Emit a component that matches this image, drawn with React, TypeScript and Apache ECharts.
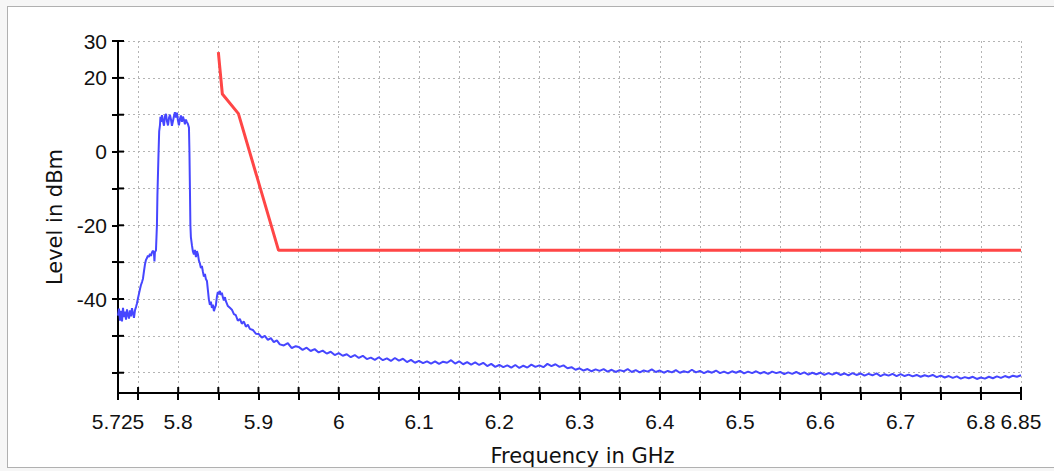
import React, { useEffect, useRef } from "react";
import * as echarts from "echarts";

const spectrum: [number, number][] = [
  [5.725, -44.5], [5.7262, -42.6], [5.7275, -45.9], [5.7287, -43.2], [5.73, -46.1], [5.7312, -42.4],
  [5.7325, -44.9], [5.7337, -43.4], [5.735, -45.6], [5.7362, -42.8], [5.7374, -44.2], [5.7387, -45.3],
  [5.7399, -43.1], [5.7412, -44.7], [5.7424, -42.5], [5.7437, -43.9], [5.7449, -45.1], [5.7462, -43.0],
  [5.7474, -42.2], [5.7486, -41.2], [5.7499, -39.8], [5.7511, -38.6], [5.7524, -37.3], [5.7536, -36.2],
  [5.7549, -35.4], [5.7561, -34.5], [5.7574, -32.4], [5.7586, -30.6], [5.7598, -29.4], [5.7611, -28.9],
  [5.7623, -28.2], [5.7636, -28.6], [5.7648, -27.7], [5.7661, -28.3], [5.7673, -27.4], [5.7685, -26.9],
  [5.7698, -27.6], [5.7704, -29.8], [5.771, -27.3], [5.7723, -26.8], [5.7735, -20], [5.7741, -12],
  [5.7753, -2], [5.7763, 5.5], [5.7773, 7.2], [5.7779, 9.4], [5.7785, 8.1], [5.7798, 9.9], [5.781, 8.3],
  [5.7823, 7.0], [5.7835, 9.6], [5.7848, 10.2], [5.786, 8.2], [5.7873, 7.1], [5.7885, 9.1], [5.7897, 10.0],
  [5.791, 8.7], [5.7922, 7.0], [5.7935, 8.3], [5.7947, 9.6], [5.7959, 10.7], [5.7972, 9.2], [5.7984, 10.6],
  [5.7997, 8.4], [5.8009, 7.1], [5.8022, 8.9], [5.8034, 9.8], [5.8047, 8.1], [5.8059, 9.5], [5.8071, 8.6],
  [5.8084, 7.4], [5.8096, 8.7], [5.8109, 8.0], [5.8121, 7.5], [5.8134, 6.5], [5.814, 0], [5.8146, -10],
  [5.8152, -20], [5.8158, -23.2], [5.8171, -25.4], [5.8183, -27.1], [5.8196, -27.9], [5.8208, -26.7],
  [5.8221, -28.6], [5.8233, -27.0], [5.8246, -27.9], [5.8258, -29.6], [5.827, -30.3], [5.8283, -31.6],
  [5.8295, -31.0], [5.8308, -32.6], [5.832, -33.9], [5.8333, -33.2], [5.8345, -34.6], [5.8358, -35.1],
  [5.837, -37.6], [5.8382, -40.1], [5.8395, -41.6], [5.8407, -40.7], [5.842, -42.4], [5.8432, -41.5],
  [5.8445, -43.3], [5.8457, -42.4], [5.8469, -41.7], [5.8482, -39.4], [5.8494, -38.1], [5.8507, -38.7],
  [5.8519, -37.8], [5.8532, -38.9], [5.8544, -38.3], [5.8557, -39.6], [5.8569, -40.4], [5.8582, -39.5],
  [5.8594, -40.6], [5.8619, -41.9], [5.8644, -42.4], [5.8669, -42.9], [5.8694, -44.1], [5.8718, -44.4],
  [5.8743, -45.9], [5.8768, -45.4], [5.8793, -46.7], [5.8818, -46.1], [5.8843, -47.5], [5.8868, -47.0],
  [5.8893, -48.1], [5.893, -48.4], [5.8967, -49.4], [5.9005, -49.5], [5.9042, -50.5], [5.9079, -50.0],
  [5.9117, -51.1], [5.9154, -50.6], [5.9191, -51.7], [5.9229, -51.2], [5.9266, -52.3], [5.9316, -52.6],
  [5.9366, -52.0], [5.9415, -53.3], [5.9465, -52.8],
  [5.95, -53.0], [5.955, -53.8], [5.96, -53.2], [5.965, -54.1], [5.97, -53.6], [5.975, -54.5], [5.98, -54.0],
  [5.985, -54.8], [5.99, -54.3], [5.995, -55.2], [6.0, -54.7], [6.005, -55.4], [6.01, -55.0], [6.015, -55.8],
  [6.02, -55.2], [6.025, -56.0], [6.03, -55.4], [6.035, -56.3], [6.04, -55.9], [6.045, -56.5], [6.05, -55.8],
  [6.055, -56.6], [6.06, -56.1], [6.065, -56.8], [6.07, -56.0], [6.075, -56.7], [6.08, -56.2], [6.085, -57.1],
  [6.09, -56.5], [6.095, -57.3], [6.1, -56.8], [6.105, -57.4], [6.11, -56.9], [6.115, -57.5], [6.12, -56.9],
  [6.125, -57.6], [6.13, -57.0], [6.135, -57.3], [6.14, -56.6], [6.145, -57.5], [6.15, -56.9], [6.155, -57.7],
  [6.16, -57.1], [6.165, -57.8], [6.17, -57.2], [6.175, -57.9], [6.18, -57.3], [6.185, -58.2], [6.19, -57.6],
  [6.195, -58.4], [6.2, -57.9], [6.205, -58.5], [6.21, -58.0], [6.215, -58.6], [6.22, -57.9], [6.225, -58.7],
  [6.23, -58.1], [6.235, -58.6], [6.24, -57.8], [6.245, -58.4], [6.25, -58.0], [6.255, -58.5], [6.26, -57.6],
  [6.265, -58.2], [6.27, -57.7], [6.275, -58.4], [6.28, -58.0], [6.285, -58.8], [6.29, -58.5], [6.295, -59.2],
  [6.3, -58.8], [6.305, -59.4], [6.31, -59.0], [6.315, -59.6], [6.32, -59.1], [6.325, -59.5], [6.33, -59.0],
  [6.335, -59.7], [6.34, -59.2], [6.345, -59.8], [6.35, -59.3], [6.355, -59.6], [6.36, -59.0], [6.365, -59.8],
  [6.37, -59.3], [6.375, -59.9], [6.38, -59.4], [6.385, -59.7], [6.39, -59.1], [6.395, -59.8], [6.4, -59.4],
  [6.405, -60.0], [6.41, -59.5], [6.415, -59.9], [6.42, -59.3], [6.425, -60.0], [6.43, -59.6], [6.435, -59.9],
  [6.44, -59.2], [6.445, -59.9], [6.45, -59.5], [6.455, -60.1], [6.46, -59.6], [6.465, -60.0], [6.47, -59.4],
  [6.475, -60.1], [6.48, -59.7], [6.485, -60.2], [6.49, -59.6], [6.495, -60.0], [6.5, -59.5], [6.505, -60.2],
  [6.51, -59.7], [6.515, -60.1], [6.52, -59.6], [6.525, -60.2], [6.53, -59.8], [6.535, -60.3], [6.54, -59.7],
  [6.545, -60.1], [6.55, -59.8], [6.555, -60.4], [6.56, -59.9], [6.565, -60.3], [6.57, -59.8], [6.575, -60.4],
  [6.58, -59.9], [6.585, -60.5], [6.59, -60.0], [6.595, -60.4], [6.6, -60.0], [6.605, -60.6], [6.61, -60.1],
  [6.615, -60.5], [6.62, -60.0], [6.625, -60.6], [6.63, -60.2], [6.635, -60.7], [6.64, -60.1], [6.645, -60.6],
  [6.65, -60.2], [6.655, -60.8], [6.66, -60.3], [6.665, -60.7], [6.67, -60.2], [6.675, -60.9], [6.68, -60.4],
  [6.685, -60.8], [6.69, -60.3], [6.695, -60.9], [6.7, -60.4], [6.705, -60.9], [6.71, -60.5], [6.715, -61.0],
  [6.72, -60.6], [6.725, -61.1], [6.73, -60.7], [6.735, -61.0], [6.74, -60.6], [6.745, -61.2], [6.75, -60.8],
  [6.755, -61.3], [6.76, -60.9], [6.765, -61.4], [6.77, -61.0], [6.775, -61.6], [6.78, -61.2], [6.785, -61.5],
  [6.79, -61.1], [6.795, -61.7], [6.8, -61.3], [6.805, -61.6], [6.81, -61.1], [6.815, -61.5], [6.82, -61.0],
  [6.825, -61.4], [6.83, -60.9], [6.835, -61.3], [6.84, -60.8], [6.845, -61.1], [6.85, -60.7],
];

const maskLimit: [number, number][] = [
  [5.85, 27], [5.855, 15.6], [5.875, 10.3], [5.925, -26.8], [6.85, -26.8],
];

const xTickValues = [5.725, 5.75, 5.8, 5.85, 5.9, 5.95, 6, 6.05, 6.1, 6.15, 6.2, 6.25, 6.3, 6.35, 6.4, 6.45, 6.5, 6.55, 6.6, 6.65, 6.7, 6.75, 6.8, 6.85];
const xLabelValues = [5.725, 5.8, 5.9, 6, 6.1, 6.2, 6.3, 6.4, 6.5, 6.6, 6.7, 6.8, 6.85];
const yTickValues = [-60, -50, -40, -30, -20, -10, 0, 10, 20, 30];
const yLabelValues = [-40, -20, 0, 20, 30];

const X_MIN = 5.725;
const X_MAX = 6.85;
const Y_MIN = -65.5;
const Y_MAX = 30;

export default function App() {
  const ref = useRef<HTMLDivElement>(null);

  useEffect(() => {
    if (!ref.current) return;
    const chart = echarts.init(ref.current, undefined, { renderer: "svg" });
    const labelFont = { fontFamily: "Liberation Sans", fontSize: 21, color: "#111" };
    const nameFont = { fontFamily: "DejaVu Sans", fontSize: 21, color: "#111" };
    const fmt = (v: number) => String(+(+v).toFixed(3));

    chart.setOption({
      animation: false,
      grid: { left: 118, right: 33, top: 41, bottom: 78, containLabel: false, outerBoundsMode: "none" },
      xAxis: {
        type: "value",
        min: X_MIN,
        max: X_MAX,
        name: "Frequency in GHz",
        nameLocation: "middle",
        nameGap: 52,
        nameTextStyle: { ...nameFont, padding: [0, 0, 0, 26] },
        axisLine: { onZero: false, lineStyle: { color: "#000", width: 2 } },
        axisTick: { show: true, customValues: xTickValues, length: 7, lineStyle: { color: "#000", width: 2 } },
        axisLabel: { customValues: xLabelValues, margin: 18, formatter: fmt, ...labelFont },
        splitLine: { show: true, lineStyle: { color: "#b4b4b4", width: 1, type: [2, 3] } },
      },
      yAxis: {
        type: "value",
        min: Y_MIN,
        max: Y_MAX,
        name: "Level in dBm",
        nameLocation: "middle",
        nameGap: 50,
        nameTextStyle: nameFont,
        axisLine: { show: true, onZero: false, lineStyle: { color: "#000", width: 2 } },
        axisTick: { show: true, customValues: yTickValues, length: 6, lineStyle: { color: "#000", width: 2 } },
        axisLabel: { customValues: yLabelValues, margin: 11, formatter: fmt, ...labelFont },
        splitLine: { show: true, lineStyle: { color: "#b4b4b4", width: 1, type: [2, 3] } },
      },
      series: [
        {
          type: "line",
          data: spectrum,
          showSymbol: false,
          symbol: "none",
          lineStyle: { color: "#4646ff", width: 2 },
          z: 3,
        },
        {
          type: "line",
          data: maskLimit,
          showSymbol: false,
          symbol: "none",
          lineStyle: { color: "#ff4646", width: 3 },
          z: 4,
        },
        {
          type: "custom",
          silent: true,
          z: 5,
          data: yTickValues.map((v) => [X_MIN, v]),
          renderItem: (_p: any, api: any) => {
            const p = api.coord([api.value(0), api.value(1)]);
            return {
              type: "line",
              shape: { x1: p[0], y1: p[1], x2: p[0] + 6, y2: p[1] },
              style: { stroke: "#000", lineWidth: 2 },
            };
          },
        },
        {
          type: "custom",
          silent: true,
          z: 5,
          data: xTickValues.map((v) => [v, Y_MIN]),
          renderItem: (_p: any, api: any) => {
            const p = api.coord([api.value(0), api.value(1)]);
            return {
              type: "line",
              shape: { x1: p[0], y1: p[1], x2: p[0], y2: p[1] - 6 },
              style: { stroke: "#000", lineWidth: 2 },
            };
          },
        },
      ],
    });
    return () => chart.dispose();
  }, []);

  return (
    <div style={{ position: "fixed", left: 0, top: 0, width: 1054, height: 471, background: "#f6f6f6" }}>
      <div
        style={{
          position: "absolute",
          left: 7,
          top: 6,
          width: 1047,
          height: 462,
          boxSizing: "border-box",
          background: "#fff",
          borderTop: "1px solid #b0b0b0",
          borderLeft: "1px solid #b0b0b0",
          borderBottom: "1px solid #b0b0b0",
          overflow: "hidden",
        }}
      >
        <div ref={ref} style={{ position: "absolute", left: -8, top: -7, width: 1054, height: 471 }} />
      </div>
    </div>
  );
}
